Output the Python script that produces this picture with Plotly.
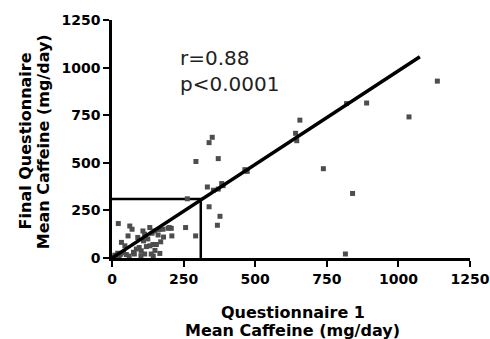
import plotly.graph_objects as go

# Scatter data: Questionnaire 1 (x) vs Final Questionnaire (y), mg/day
q1 = [5, 10, 15, 20, 22, 25, 30, 33, 40, 45, 50, 56, 60, 62, 70, 75, 78, 85, 90, 95,
      102, 108, 110, 114, 114, 120, 125, 132, 132, 137, 140, 143, 149, 150, 155, 161,
      165, 167, 170, 178, 180, 196, 200, 207, 209, 257, 263, 292, 293, 333, 339, 339,
      350, 354, 368, 371, 371, 377, 383, 388, 464, 472, 641, 645, 656, 738, 815, 819,
      840, 889, 1037, 1136, 101, 144]
final = [5, 15, 8, 25, 181, 12, 20, 82, 28, 64, 18, 116, 10, 168, 151, 30, 21, 47, 108, 55,
         38, 142, 90, 125, 21, 60, 100, 160, 64, 21, 130, 71, 142, 40, 71, 121,
         150, 24, 85, 151, 110, 156, 160, 156, 116, 160, 311, 116, 507, 373, 269, 606,
         634, 356, 172, 362, 522, 219, 391, 380, 464, 455, 655, 616, 724, 469, 21, 811,
         339, 814, 741, 929, 12, 10]

# Regression line and mean reference lines
fit_x = [0, 1075]
fit_y = [0, 1057]
mean_x = 310
mean_y = 310

x_ticks = [0, 250, 500, 750, 1000, 1250]
y_ticks = [0, 250, 500, 750, 1000, 1250]

x_title = ["Questionnaire 1", "Mean Caffeine (mg/day)"]
y_title = ["Final Questionnaire", "Mean Caffeine (mg/day)"]
stats = ["r=0.88", "p<0.0001"]

FONT = "DejaVu Sans, Liberation Sans, Arial"

fig = go.Figure()
fig.add_trace(go.Scatter(x=[0, mean_x, mean_x], y=[mean_y, mean_y, 0], mode="lines",
                         line=dict(color="black", width=2.5), cliponaxis=False,
                         hoverinfo="skip"))
fig.add_trace(go.Scatter(x=q1, y=final, mode="markers",
                         marker=dict(symbol="square", size=5, color="#4d4d4d"),
                         cliponaxis=False))
fig.add_trace(go.Scatter(x=fit_x, y=fit_y, mode="lines",
                         line=dict(color="black", width=3.5), cliponaxis=False))

for txt, yv in zip(stats, [1052, 915]):
    fig.add_annotation(x=230, y=yv, text=txt, showarrow=False, xanchor="left",
                       yanchor="middle", font=dict(family=FONT, size=20, color="#222"))

for txt, yp in zip(x_title, [-0.227, -0.303]):
    fig.add_annotation(xref="paper", yref="paper", x=0.505, y=yp, text="<b>%s</b>" % txt,
                       showarrow=False, xanchor="center", yanchor="middle",
                       font=dict(family=FONT, size=16, color="black"))
for txt, xp in zip(y_title, [-0.243, -0.193]):
    fig.add_annotation(xref="paper", yref="paper", x=xp, y=0.49, text="<b>%s</b>" % txt,
                       showarrow=False, xanchor="center", yanchor="middle", textangle=-90,
                       font=dict(family=FONT, size=16, color="black"))

axis_common = dict(
    showline=True, linecolor="black", linewidth=2.5, ticks="outside", ticklen=6,
    tickwidth=2, tickcolor="black", showgrid=False, zeroline=False, automargin=False,
    tickfont=dict(family=FONT, size=14, color="black", weight="bold"),
)

fig.update_xaxes(range=[0, 1250], tickvals=x_ticks, ticktext=[str(t) for t in x_ticks],
                 **axis_common)
fig.update_yaxes(range=[0, 1250], tickvals=y_ticks, ticktext=[str(t) for t in y_ticks],
                 **axis_common)

fig.update_layout(width=490, height=339, showlegend=False,
                  margin=dict(l=112, r=20, t=20, b=81, autoexpand=False),
                  plot_bgcolor="white", paper_bgcolor="white")

fig.write_html("out.html", config={"displayModeBar": False},
               post_script="document.body.style.margin='0';")
